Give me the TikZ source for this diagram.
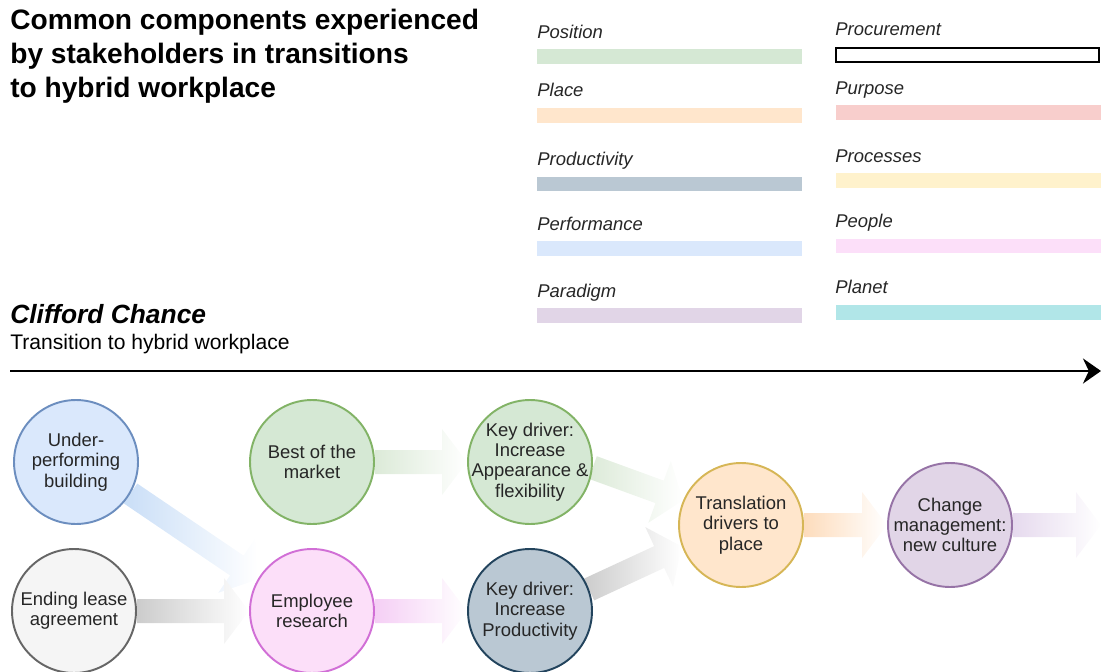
\documentclass[tikz,border=0pt]{standalone}
\usepackage{fontspec}
\setmainfont{Liberation Sans}
\usetikzlibrary{calc,backgrounds,arrows.meta}

\definecolor{greenfill}{HTML}{D5E8D4}
\definecolor{greenline}{HTML}{82B366}
\definecolor{bluefill}{HTML}{DAE8FC}
\definecolor{blueline}{HTML}{6C8EBF}
\definecolor{grayfill}{HTML}{F5F5F5}
\definecolor{grayline}{HTML}{666666}
\definecolor{pinkfill}{HTML}{FCDFF9}
\definecolor{pinkline}{HTML}{D16FD6}
\definecolor{slatefill}{HTML}{BAC8D3}
\definecolor{slateline}{HTML}{23445D}
\definecolor{orangefill}{HTML}{FFE6CC}
\definecolor{goldline}{HTML}{D6B656}
\definecolor{purplefill}{HTML}{E1D5E7}
\definecolor{purpleline}{HTML}{9673A6}
\definecolor{redfill}{HTML}{F8CECC}
\definecolor{yellowfill}{HTML}{FFF2CC}
\definecolor{cyanfill}{HTML}{B1E6E8}
\definecolor{arrowblue}{HTML}{C9DEF7}
\definecolor{arrowgray}{HTML}{CCCCCC}
\definecolor{arrowgreen}{HTML}{DCEAD8}
\definecolor{arrowpink}{HTML}{F5CFF5}
\definecolor{arroworange}{HTML}{FDDCBC}
\definecolor{arrowpurple}{HTML}{E6DAEE}

\newcommand{\fatarrow}[3]{%
    \coordinate (fatbase) at ($(#2)!0.5cm!(#1)$);
    \shade[left color=#3, right color=white]
        ($(#1)!0.24cm!90:(#2)$) -- ($(fatbase)!0.24cm!90:(#2)$) -- ($(fatbase)!0.66cm!90:(#2)$)
        -- (#2) -- ($(fatbase)!0.66cm!-90:(#2)$) -- ($(fatbase)!0.24cm!-90:(#2)$)
        -- ($(#1)!0.24cm!-90:(#2)$) -- cycle;
}

\begin{document}
\begin{tikzpicture}[x=0.02cm, y=-0.02cm,
    stage/.style={circle, draw, line width=1.1pt, minimum size=2.48cm, inner sep=-10pt,
        align=center, text=black!85, font=\fontsize{10.5}{11.6}\selectfont},
    legend/.style={anchor=base west, inner sep=0pt, text=black!85,
        font=\itshape\fontsize{10.5}{12}\selectfont}]
    \useasboundingbox (0,0) rectangle (1101,672);

    \node[anchor=north west, inner sep=0pt, align=left,
        font=\bfseries\fontsize{16}{19.3}\selectfont] (title) at (10,9)
        {Common components experienced\\by stakeholders in transitions\\to hybrid workplace};
    \node[anchor=base west, inner sep=0pt, font=\bfseries\itshape\fontsize{15}{18}\selectfont] (firm) at (10,323) {Clifford Chance};
    \node[anchor=base west, inner sep=0pt, font=\fontsize{12}{14}\selectfont] (subtitle) at (10,349) {Transition to hybrid workplace};

    \node[legend] (position) at (537,39) {Position};
    \fill[greenfill] (537,49) rectangle (802,64);
    \node[legend] (place) at (537,97) {Place};
    \fill[orangefill] (537,108) rectangle (802,123);
    \node[legend] (productivity) at (537,166) {Productivity};
    \fill[slatefill] (537,177) rectangle (802,191);
    \node[legend] (performance) at (537,230) {Performance};
    \fill[bluefill] (537,241) rectangle (802,256);
    \node[legend] (paradigm) at (537,297) {Paradigm};
    \fill[purplefill] (537,308) rectangle (802,323);

    \node[legend] (procurement) at (835,36) {Procurement};
    \draw[line width=1.2pt, fill=white] (836,48) rectangle (1099,62);
    \node[legend] (purpose) at (835,95) {Purpose};
    \fill[redfill] (836,105) rectangle (1101,120);
    \node[legend] (processes) at (835,163) {Processes};
    \fill[yellowfill] (836,173) rectangle (1101,188);
    \node[legend] (people) at (835,227) {People};
    \fill[pinkfill] (836,239) rectangle (1101,253);
    \node[legend] (planet) at (835,293) {Planet};
    \fill[cyanfill] (836,305) rectangle (1101,320);

    \coordinate (timestart) at (10,371);
    \coordinate (timeend) at (1101,371);
    \draw[line width=1.7pt, -{Stealth[length=0.36cm, width=0.5cm]}] (timestart) -- (timeend);

    \node[stage, fill=bluefill, draw=blueline] (building) at (76,462) {Under-\\performing\\building};
    \node[stage, fill=grayfill, draw=grayline] (lease) at (74,611) {Ending lease\\agreement};
    \node[stage, fill=greenfill, draw=greenline] (market) at (312,462) {Best of the\\market};
    \node[stage, fill=pinkfill, draw=pinkline] (research) at (312,611) {Employee\\research};
    \node[stage, fill=greenfill, draw=greenline] (appearance) at (530,462) {Key driver:\\Increase\\Appearance \&\\flexibility};
    \node[stage, fill=slatefill, draw=slateline] (productive) at (530,611) {Key driver:\\Increase\\Productivity};
    \node[stage, fill=orangefill, draw=goldline] (translation) at (741,525) {Translation\\drivers to\\place};
    \node[stage, fill=purplefill, draw=purpleline] (culture) at (950,525) {Change\\management:\\new culture};
    \coordinate (flowend) at (1101,525);

    \begin{scope}[on background layer]
        \fatarrow{building.-30}{research.150}{arrowblue}
        \fatarrow{lease.east}{research.west}{arrowgray}
        \fatarrow{market.east}{appearance.west}{arrowgreen}
        \fatarrow{research.east}{productive.west}{arrowpink}
        \fatarrow{appearance.-5}{translation.157}{arrowgreen}
        \fatarrow{productive.20}{translation.200}{arrowgray}
        \fatarrow{translation.east}{culture.west}{arroworange}
        \fatarrow{culture.east}{flowend}{arrowpurple}
    \end{scope}
\end{tikzpicture}
\end{document}
